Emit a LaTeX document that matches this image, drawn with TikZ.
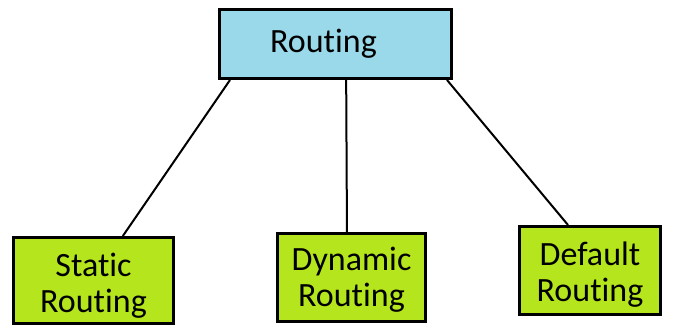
\documentclass[tikz,border=0pt]{standalone}
\usepackage{fontspec}
\setmainfont{Carlito}[Ligatures=NoCommon]
\definecolor{routeblue}{RGB}{153,217,234}
\definecolor{routegreen}{RGB}{181,230,29}

\begin{document}
\begin{tikzpicture}[x=0.75pt, y=-0.75pt, line width=1.5pt,
    box/.style={draw, line width=2.25pt, align=center, inner sep=0pt,
        font=\fontsize{25.5}{27}\selectfont},
    leaf/.style={box, fill=routegreen},
    leaftext/.style={align=center, inner sep=0pt, font=\fontsize{25.5}{27}\selectfont}]
            \useasboundingbox (0,0) rectangle (673,334);

            \node[box, fill=routeblue, minimum width=174pt, minimum height=51.75pt] (routing) at (335.5,44) {Routing\hspace{18pt}};
            \node[leaf, minimum width=120pt, minimum height=64.5pt] (static) at (93.5,280.5) {};
            \node[leaf, minimum width=111pt, minimum height=66pt] (dynamic) at (351.5,277.5) {};
            \node[leaf, minimum width=105.75pt, minimum height=66pt] (default) at (590,270.5) {};
            \node[leaftext] (static text) at ([yshift=-4pt]static.center) {Static\\Routing};
            \node[leaftext] (dynamic text) at ([yshift=-2pt]dynamic.center) {Dynamic\\Routing};
            \node[leaftext] (default text) at ([yshift=-3pt]default.center) {Default\\Routing};

            \draw ([xshift=9pt]routing.south west) -- ([xshift=22pt]static.north);
            \draw ([xshift=8pt]routing.south) -- ([xshift=-3.4pt]dynamic.north);
            \draw ([xshift=-4.5pt]routing.south east) -- ([xshift=-16.5pt]default.north);
        \end{tikzpicture}
\end{document}
